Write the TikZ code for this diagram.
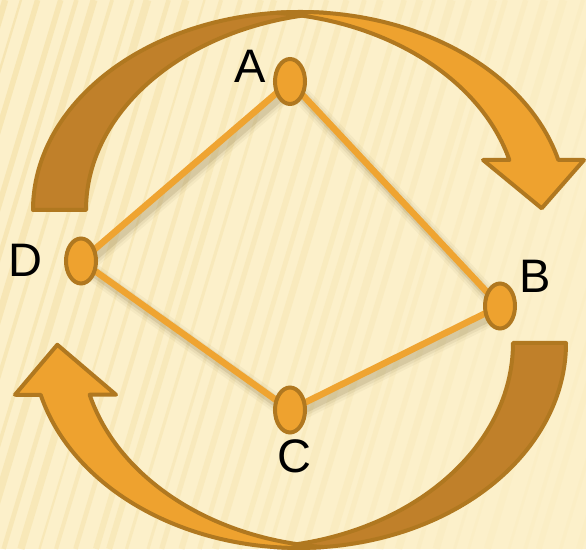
\documentclass[tikz,border=0pt]{standalone}
\usepackage{fontspec}
\setmainfont{Liberation Sans}
\usetikzlibrary{shapes.geometric}
\definecolor{bgcol}{HTML}{FCF0CA}
\definecolor{stripecol}{HTML}{F0D894}
\definecolor{orangefill}{HTML}{EEA22F}
\definecolor{darkfill}{HTML}{C0802A}
\definecolor{outlinecol}{HTML}{B07820}
\definecolor{edgecol}{HTML}{EFA431}
\definecolor{shadowcol}{HTML}{6E5A28}
\pgfdeclarelayer{bglayer}
\pgfdeclarelayer{edgelayer}
\pgfsetlayers{bglayer,edgelayer,main}
\newcommand\myArrowPaths{%
  \filldraw[darkband] (-267,0)
    arc[start angle=180, end angle=84.30, x radius=267, y radius=198]
    arc[start angle=95.70, end angle=180, x radius=267, y radius=198] -- cycle;
  \filldraw[lightband] (-24.52,197.16)
    arc[start angle=95.27, end angle=14.63, x radius=267, y radius=198]
    -- (284,50) -- (241.7,1.7) -- (183,50) -- (209.35,50)
    arc[start angle=14.63, end angle=84.73, x radius=267, y radius=198] -- cycle;
}
\begin{document}
\begin{tikzpicture}[x=1pt,y=1pt,
  darkband/.style={fill=darkfill, draw=outlinecol, line width=4pt, line join=round},
  lightband/.style={fill=orangefill, draw=outlinecol, line width=4pt, line join=round},
  vertex/.style={ellipse, draw=outlinecol, fill=orangefill, line width=4pt,
    minimum width=30pt, minimum height=45pt, inner sep=0pt},
  edgeline/.style={draw=edgecol, line width=6.5pt},
  shadowline/.style={draw=shadowcol, line cap=round},
  lbl/.style={font=\fontsize{47}{47}\selectfont, text=black, inner sep=0pt, anchor=base}]
\useasboundingbox (0,0) rectangle (586,549);
\begin{pgfonlayer}{bglayer}
  \begin{scope}
    \clip (0,0) rectangle (586,549);
    \fill[bgcol] (0,0) rectangle (586,549);
    \pgfmathsetseed{5}
    \foreach \i in {0,...,44} {
      \pgfmathsetmacro\xx{-200 + \i*18 + 8*rnd}
      \pgfmathsetmacro\ww{2+6*rnd}
      \pgfmathsetmacro\op{max(0.08, 0.45 - 0.00055*(\xx+200))}
      \draw[stripecol, line width=\ww pt, opacity=\op] (\xx,0) -- ++(165,549);
    }
  \end{scope}
  \begin{scope}[shift={(300,339)}]
    \myArrowPaths
  \end{scope}
  \begin{scope}[shift={(299,206)}, rotate=180, yscale=1.035]
    \myArrowPaths
  \end{scope}
\end{pgfonlayer}

\node[vertex] (A) at (290,467.5) {};
\node[vertex] (B) at (500,243) {};
\node[vertex] (C) at (290,139) {};
\node[vertex] (D) at (81,288) {};

\begin{pgfonlayer}{edgelayer}
  \begin{scope}[transform canvas={shift={(3pt,-5pt)}}]
    \draw[shadowline, line width=18pt, opacity=0.05] (A.center) -- (B.center) -- (C.center) -- (D.center) -- cycle;
    \draw[shadowline, line width=13pt, opacity=0.08] (A.center) -- (B.center) -- (C.center) -- (D.center) -- cycle;
    \draw[shadowline, line width=8pt, opacity=0.14] (A.center) -- (B.center) -- (C.center) -- (D.center) -- cycle;
  \end{scope}
  \draw[edgeline] (A.center) -- (B.center);
  \draw[edgeline] (B.center) -- (C.center);
  \draw[edgeline] (C.center) -- (D.center);
  \draw[edgeline] (D.center) -- (A.center);
\end{pgfonlayer}

\node[lbl] (la) at (250.5,466) {A};
\node[lbl] (lb) at (535.5,256) {B};
\node[lbl] (lc) at (294,77) {C};
\node[lbl] (ld) at (25,272) {D};
\end{tikzpicture}
\end{document}
